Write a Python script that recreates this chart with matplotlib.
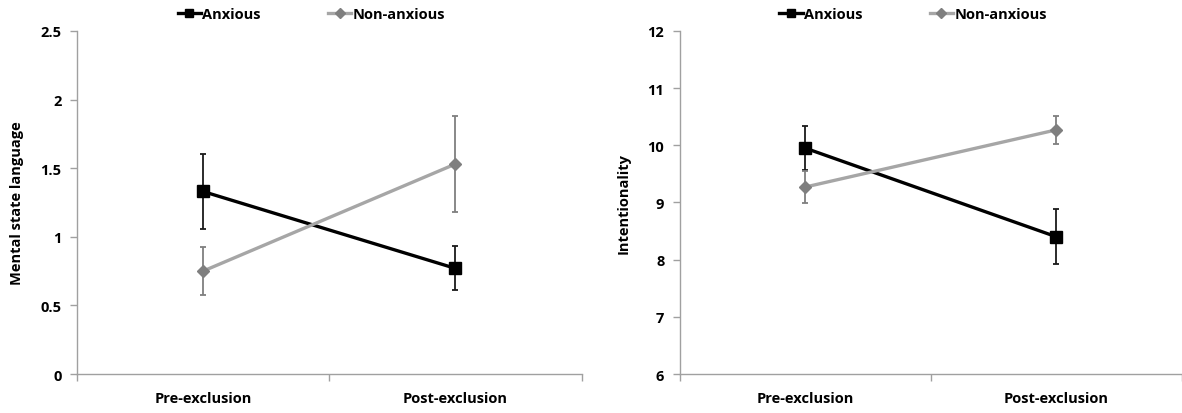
import numpy as np
import matplotlib
matplotlib.use('Agg')
import matplotlib.pyplot as plt
from matplotlib.lines import Line2D

plt.rcParams['font.family'] = ['Open Sans', 'DejaVu Sans']
plt.rcParams['font.weight'] = 'bold'

# data
categories = ['Pre-exclusion', 'Post-exclusion']
groups = ['Anxious', 'Non-anxious']

msl_mean = {'Anxious': [1.33, 0.77], 'Non-anxious': [0.75, 1.53]}
msl_err = {'Anxious': [0.27, 0.16], 'Non-anxious': [0.175, 0.35]}

int_mean = {'Anxious': [9.95, 8.40], 'Non-anxious': [9.27, 10.27]}
int_err = {'Anxious': [0.38, 0.48], 'Non-anxious': [0.28, 0.25]}

panels = [
    ('Mental state language', msl_mean, msl_err, (0, 2.5), [0, 0.5, 1, 1.5, 2, 2.5], ['0', '0.5', '1', '1.5', '2', '2.5']),
    ('Intentionality', int_mean, int_err, (6, 12), [6, 7, 8, 9, 10, 11, 12], ['6', '7', '8', '9', '10', '11', '12']),
]

styles = {
    'Anxious': dict(color='black', marker='s', ms=8, mfc='black', mec='black', ecolor='#1a1a1a'),
    'Non-anxious': dict(color='#A6A6A6', marker='D', ms=6.5, mfc='#7F7F7F', mec='#7F7F7F', ecolor='#7F7F7F'),
}

fs = 10.5
fig = plt.figure(figsize=(11.82, 4.14), dpi=100)
rects = [[0.065, 0.094, 0.427, 0.829], [0.575, 0.094, 0.425, 0.829]]
x = np.arange(len(categories))

for rect, (ylabel, means, errs, ylim, yticks, yticklabels) in zip(rects, panels):
    ax = fig.add_axes(rect)
    handles = []
    for g in groups:
        s = styles[g]
        ax.errorbar(x, means[g], yerr=errs[g], color=s['color'], marker=s['marker'],
                    ms=s['ms'], mfc=s['mfc'], mec=s['mec'], ecolor=s['ecolor'],
                    elinewidth=1.3, capsize=2.5, capthick=1.3, lw=2.4)
        handles.append(Line2D([], [], color=s['color'], marker=s['marker'], lw=2.4,
                              ms=s['ms'] * 0.8, mfc=s['mfc'], mec=s['mec'], label=g))
    ax.set_xlim(-0.5, 1.5)
    ax.set_ylim(*ylim)
    ax.set_yticks(yticks)
    ax.set_yticklabels(yticklabels, fontsize=fs, fontweight='bold')
    ax.set_xticks(x)
    ax.set_xticklabels(categories, fontsize=fs, fontweight='bold')
    ax.set_xticks([-0.5, 0.5, 1.5], minor=True)
    ax.tick_params(axis='x', which='major', length=0, pad=12)
    ax.tick_params(axis='x', which='minor', length=5, color='#A0A0A0', width=1)
    ax.tick_params(axis='y', length=5, color='#A0A0A0', width=1, pad=6)
    for side in ['top', 'right']:
        ax.spines[side].set_visible(False)
    for side in ['left', 'bottom']:
        ax.spines[side].set_color('#A0A0A0')
        ax.spines[side].set_linewidth(1)
    ax.set_ylabel(ylabel, fontsize=fs, fontweight='bold', labelpad=12)
    leg = ax.legend(handles=handles, loc='upper center', bbox_to_anchor=(0.465, 1.108), ncol=2,
                    frameon=False, fontsize=fs, handlelength=1.6, handletextpad=0.1,
                    columnspacing=4.6)
    for t in leg.get_texts():
        t.set_fontweight('bold')

fig.savefig('out.png', dpi=100)
